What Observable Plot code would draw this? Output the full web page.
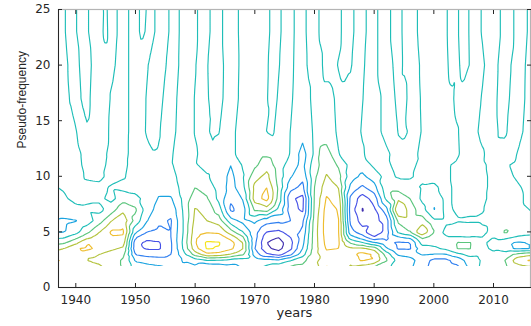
<!DOCTYPE html>
<html><head><meta charset="utf-8">
<script src="https://cdn.jsdelivr.net/npm/d3@7"></script>
<script src="https://cdn.jsdelivr.net/npm/@observablehq/plot@0.6"></script>
<style>html,body{margin:0;padding:0;background:#fff} svg{display:block}</style>
</head><body><div id="chart"></div>
<script>
// ---- axes / ticks ----
const xTicks = [1940, 1950, 1960, 1970, 1980, 1990, 2000, 2010];
const yTicks = [0, 5, 10, 15, 20, 25];
const xDomain = [1937.1, 2016.2];
const yDomain = [0, 25];
const xLabel = "years";
const yLabel = "Pseudo-frequency";

// ---- contour levels (coefficient values) and their colours ----
const levels = [-4, -3, -2, -1, 0, 1, 2, 3, 4];
const levelColors = ["#3f2eae", "#4651e6", "#2f7ff0", "#1aa3e0", "#1fbeb8", "#5bc57c", "#b4c33e", "#eebd2f", "#f5e41c"];

// ---- low pseudo-frequency rows (sampled every 2 years) ----
const lowYears = [1936,1938,1940,1942,1944,1946,1948,1950,1952,1954,1956,1958,1960,1962,1964,1966,1968,1970,1972,1974,1976,1978,1980,1982,1984,1986,1988,1990,1992,1994,1996,1998,2000,2002,2004,2006,2008,2010,2012,2014,2016,2018];
const lowFreqs = [1.8, 2.5, 3, 3.5, 4, 4.5, 5, 6, 7, 8, 9, 10, 11];
const c_f1_8 = [2.0,2.3,2.6,3.1,2.2,1.5,0.9,-0.5,-0.6,-0.8,-1.1,-1.1,-1.3,-2.1,-1.9,-1.5,-0.9,-0.3,0.3,0.8,1.2,1.3,1.3,3.1,3.1,1.8,1.5,0.8,0.3,-0.5,-0.8,-1.7,-2.3,-2.4,-2.2,-0.8,0.2,0.6,0.8,1.5,1.8,1.8];
const c_f2_5 = [3.2,3.0,2.4,1.9,1.7,1.3,0.9,-1.2,-1.5,-1.6,-1.6,-0.9,-0.3,0.2,0.1,-0.2,-0.3,-0.5,-0.8,-1.0,-0.2,0.6,1.7,2.4,2.3,2.4,3.2,3.0,1.2,-0.3,-0.6,-1.5,-2.2,-2.2,-1.6,-0.4,0.1,0.4,1.0,2.6,3.2,3.2];
const c_f3   = [2.6,2.7,2.8,2.4,2.0,1.6,1.2,-2.1,-2.4,-2.5,-2.0,-0.3,1.5,2.8,2.6,2.0,1.2,-1.5,-2.9,-3.5,-2.3,-0.5,1.6,2.7,2.6,2.7,3.3,2.9,0.6,-1.2,-1.5,-0.9,-1.0,-1.0,-0.2,0.3,0.2,0.2,0.6,1.2,1.6,1.6];
const c_f3_5 = [1.6,2.0,2.9,3.2,2.7,2.2,1.8,-2.7,-3.1,-3.1,-2.1,0.1,2.6,4.1,3.9,3.2,2.0,-2.0,-3.8,-4.3,-3.2,-1.0,1.5,3.1,3.0,2.2,2.2,1.6,-0.8,-2.1,-2.1,-0.4,-0.2,0.2,1.05,1.05,0.3,-0.2,-0.8,-1.1,-1.0,-0.9];
const c_f4   = [0.6,0.9,1.8,3.0,2.9,2.7,2.4,-2.7,-3.3,-3.1,-2.1,0.2,2.9,4.2,4.1,3.4,2.0,-1.8,-4.0,-4.5,-3.3,-1.3,1.5,3.3,3.2,1.0,0.2,-0.8,-1.8,-2.2,-2.1,0.3,0.3,0.5,1.1,1.1,0.2,-0.3,-0.9,-1.15,-1.0,-0.9];
const c_f4_5 = [-0.3,-0.1,0.7,1.8,2.6,2.9,2.8,-1.9,-2.7,-2.7,-2.0,0.1,2.8,3.5,3.5,2.6,1.2,-1.6,-3.6,-4.0,-3.0,-1.5,1.5,3.4,3.2,-0.5,-1.5,-2.8,-2.3,-1.2,-0.8,1.2,0.8,0.2,0.2,0.1,0.0,0.0,0.3,-0.2,-0.3,-0.3];
const c_f5   = [-1.1,-1.1,-0.4,0.8,2.0,3.2,3.2,-0.8,-2.0,-2.3,-2.0,0.0,2.6,2.9,2.8,1.4,0.0,-1.6,-3.0,-3.2,-2.6,-1.8,1.5,3.5,3.1,-1.6,-2.6,-4.05,-2.6,0.2,1.0,3.05,1.05,-0.3,-1.05,-1.15,-0.4,0.4,1.15,0.8,0.4,0.3];
const c_f6   = [-1.0,-1.2,-1.05,-0.5,0.6,2.0,2.6,0.6,-1.0,-1.8,-2.1,0.0,2.3,2.0,1.5,-0.6,-1.3,-0.8,-1.6,-1.8,-2.0,-2.2,1.4,3.5,3.1,-2.2,-3.4,-3.3,-2.6,1.2,1.6,1.5,0.2,0.2,0.1,0.2,0.2,0.4,0.5,0.2,0.1,0.0];
const c_f7   = [-0.3,-0.3,-0.3,-0.2,-0.3,0.5,1.8,1.2,-0.6,-1.4,-1.7,0.1,2.1,1.6,0.5,-2.2,-1.5,1.2,1.5,-0.3,-2.6,-3.2,1.2,3.4,2.95,-2.4,-4.1,-3.2,-1.4,3.1,1.6,0.4,-1.1,0.3,-0.2,-0.3,-0.1,0.4,0.4,0.1,0.0,-0.1];
const c_f8   = [-0.3,-0.15,0.3,0.2,0.2,-0.3,0.6,0.3,-0.4,-1.1,-1.1,0.2,1.6,1.1,-0.3,-1.9,-0.9,2.5,3.4,0.6,-2.8,-3.3,1.1,3.1,2.6,-2.2,-3.5,-2.6,0.2,1.8,1.0,-0.2,-0.9,0.3,-0.3,-0.4,-0.3,0.4,0.3,0.1,-0.1,-0.2];
const c_f9   = [-0.1,0.1,0.4,0.3,0.2,-0.1,-0.3,-0.4,-0.4,-0.6,-0.5,0.3,1.0,0.6,-0.4,-1.4,-0.3,2.3,3.0,0.8,-1.6,-2.3,1.0,2.6,2.0,-1.2,-2.2,-1.4,0.6,0.6,0.3,-0.1,-0.2,0.3,-0.3,-0.4,-0.3,0.3,0.2,0.1,-0.2,-0.3];
const c_f10  = [0.3,0.3,0.3,-0.15,-0.2,0.3,0.1,-0.5,-0.5,-0.5,-0.3,0.4,0.5,0.1,-0.4,-1.3,-0.1,1.6,2.3,0.6,-0.9,-1.7,0.8,2.1,1.4,-0.5,-1.2,-0.5,0.3,-0.1,-0.1,0.2,0.3,0.2,-0.3,-0.4,-0.3,0.3,0.2,-0.1,-0.3,-0.3];
const c_f11  = [0.3,0.3,0.3,-0.3,-0.4,0.4,0.2,-0.4,-0.5,-0.3,-0.1,0.5,0.1,-0.3,-0.4,-1.0,0.1,0.8,1.6,0.5,-0.5,-1.3,0.6,1.6,0.9,-0.3,-0.6,0.2,0.2,-0.3,-0.3,0.3,0.4,0.2,-0.3,-0.4,-0.2,0.3,0.1,-0.2,-0.3,-0.3];
const lowRows = [c_f1_8, c_f2_5, c_f3, c_f3_5, c_f4, c_f4_5, c_f5, c_f6, c_f7, c_f8, c_f9, c_f10, c_f11];

// ---- high pseudo-frequency rows (sampled every year) ----
const highYears = [1936,1937,1938,1939,1940,1941,1942,1943,1944,1945,1946,1947,1948,1949,1950,1951,1952,1953,1954,1955,1956,1957,1958,1959,1960,1961,1962,1963,1964,1965,1966,1967,1968,1969,1970,1971,1972,1973,1974,1975,1976,1977,1978,1979,1980,1981,1982,1983,1984,1985,1986,1987,1988,1989,1990,1991,1992,1993,1994,1995,1996,1997,1998,1999,2000,2001,2002,2003,2004,2005,2006,2007,2008,2009,2010,2011,2012,2013,2014,2015,2016,2017,2018];
const highFreqs = [12, 14, 17, 20, 23, 26];
const c_f12 = [0.4,0.4,0.4,0.4,
  0.4,-0.05,-0.4,-0.4,-0.4,-0.1,0.5,0.5,0.4,-0.1,
  -0.5,-0.5,-0.5,-0.1,-0.2,-0.5,-0.2,0.5,0.6,0.6,
  0.3,-0.4,-0.5,-0.2,-0.5,-0.7,-0.6,0.2,0.6,0.7,
  0.8,0.8,0.8,0.7,0.6,0.5,-0.1,-0.8,-1.4,-0.7,
  0.2,1.2,1.3,0.9,0.1,-0.6,-0.6,-0.6,-0.3,0.5,
  0.6,0.6,0.4,-0.2,-0.3,-0.3,-0.5,-0.2,0.5,0.6,
  0.6,0.6,0.6,0.6,0.2,-0.5,-0.5,-0.5,-0.3,0.3,
  0.5,0.4,0.3,0.4,-0.05,-0.5,-0.5,-0.5,-0.5];
const c_f14 = [0.6,0.6,0.6,0.6,
  0.1,-0.6,-0.1,-0.6,-0.6,-0.5,0.5,0.6,0.6,-0.1,
  -0.6,-0.6,0.3,0.6,0.1,-0.6,-0.6,0.2,0.6,0.6,
  -0.1,-0.6,-0.1,0.15,0.05,-0.6,-0.6,0.2,0.6,0.6,
  0.6,0.6,-0.02,-0.15,0.5,0.6,-0.05,-0.6,-0.6,-0.6,
  0.3,0.6,0.6,0.6,-0.4,-0.6,-0.6,-0.6,0.2,0.6,
  0.6,0.1,-0.6,-0.6,0.05,0.15,-0.1,-0.6,0.1,0.6,
  0.6,0.6,0.6,0.6,0.1,-0.6,-0.6,-0.4,0.6,0.6,
  0.5,-0.15,-0.15,0.4,0.6,-0.05,-0.6,-0.6,-0.6];
const c_f17 = [0.6,0.6,0.6,-0.05,
  -0.6,0.1,0.4,-0.6,-0.6,-0.6,0.2,0.6,0.6,-0.1,
  -0.6,-0.6,0.2,0.6,0.6,-0.4,-0.6,0.05,0.6,0.6,
  -0.1,-0.6,-0.2,0.6,0.6,-0.3,-0.6,-0.2,0.6,0.6,
  0.6,0.6,0.1,-0.6,0.2,0.6,0.3,-0.6,-0.6,-0.3,
  0.6,0.6,0.6,0.3,-0.6,-0.6,-0.6,-0.6,-0.1,0.6,
  0.6,0.1,-0.6,-0.5,0.5,0.5,-0.5,-0.6,0.2,0.6,
  0.6,0.6,0.6,0.3,-0.6,-0.6,-0.6,-0.6,0.05,0.6,
  0.6,-0.4,-0.6,0.3,0.6,0.2,-0.6,-0.6,-0.6];
const c_f20 = [0.6,0.6,0.6,-0.3,
  -0.6,0.4,0.6,-0.4,-0.6,-0.6,-0.6,0.4,0.6,-0.1,
  -0.6,-0.6,-0.1,0.6,0.6,0.1,-0.6,-0.2,0.6,0.6,
  0.1,-0.6,-0.1,0.6,0.6,-0.2,-0.6,-0.3,0.6,0.6,
  0.6,0.6,0.2,-0.6,-0.1,0.6,0.5,-0.5,-0.6,0.2,
  0.6,0.3,-0.6,-0.6,0.1,0.6,0.2,-0.6,-0.4,0.6,
  0.6,-0.4,-0.6,-0.1,0.6,-0.2,-0.6,-0.6,0.4,0.6,
  0.6,0.6,0.4,-0.6,-0.3,0.6,-0.05,-0.6,-0.5,0.5,
  0.6,-0.2,-0.6,0.05,0.6,0.3,-0.6,-0.6,-0.6];
const c_f23 = [0.6,0.6,0.2,-0.6,
  -0.1,0.6,0.1,-0.6,-0.4,0.3,-0.6,0.05,0.6,-0.1,
  -0.6,0.3,-0.2,-0.2,0.6,0.6,-0.4,-0.3,0.6,0.6,
  0.4,-0.6,-0.5,0.5,0.6,-0.4,-0.6,-0.2,0.6,0.6,
  0.6,0.6,0.5,-0.5,-0.4,0.6,0.6,-0.4,-0.6,0.4,
  0.6,-0.2,-0.6,-0.6,-0.5,0.5,0.6,-0.4,-0.6,0.3,
  0.6,-0.4,-0.6,0.2,0.6,-0.3,-0.6,-0.2,0.6,0.6,
  0.6,0.6,0.2,-0.6,-0.1,0.6,-0.1,-0.6,0.05,0.6,
  0.6,0.1,-0.6,-0.4,0.6,0.6,-0.3,-0.6,-0.6];
const c_f26 = [0.6,0.6,0.2,-0.6,
  -0.1,0.6,0.1,-0.6,-0.2,0.2,-0.6,0.05,0.6,-0.1,
  -0.6,0.3,-0.05,-0.2,0.6,0.6,-0.4,-0.3,0.6,0.6,
  0.4,-0.6,-0.5,0.5,0.6,-0.4,-0.6,-0.2,0.6,0.6,
  0.6,0.6,0.5,-0.5,-0.4,0.6,0.6,-0.4,-0.6,0.4,
  0.6,-0.2,-0.6,-0.6,-0.5,0.5,0.6,-0.4,-0.6,0.3,
  0.6,-0.4,-0.6,0.2,0.6,-0.3,-0.6,-0.2,0.6,0.6,
  0.6,0.6,0.2,-0.6,-0.1,0.6,-0.1,-0.6,0.05,0.6,
  0.6,0.1,-0.6,-0.4,0.6,0.6,-0.3,-0.6,-0.6];
const highRows = [c_f12, c_f14, c_f17, c_f20, c_f23, c_f26];

// ---- sample table built from the named arrays ----
const samples = [];
lowRows.forEach((row, i) => row.forEach((v, j) => samples.push({year: lowYears[j], freq: lowFreqs[i], v})));
highRows.forEach((row, i) => row.forEach((v, j) => samples.push({year: highYears[j], freq: highFreqs[i], v})));

const ink = "#262626";
const chart = Plot.plot({
  width: 531,
  height: 326,
  marginLeft: 58,
  marginRight: 1,
  marginTop: 9,
  marginBottom: 39,
  x: {domain: xDomain},
  y: {domain: yDomain},
  color: {type: "ordinal", domain: levels, range: levelColors},
  style: {fontFamily: "DejaVu Sans, Liberation Sans, sans-serif", fontSize: "12px", color: ink, background: "#fff"},
  marks: [
    Plot.contour(samples, {
      x: "year", y: "freq", value: "v",
      interpolate: "barycentric",
      x1: lowYears[0], x2: lowYears[lowYears.length - 1],
      y1: lowFreqs[0], y2: highFreqs[highFreqs.length - 1],
      thresholds: levels,
      stroke: "value", fill: "none", strokeWidth: 1.15,
      clip: true
    }),
    Plot.rect([0], {x1: xDomain[0], x2: xDomain[1], y1: yDomain[0], y2: lowFreqs[0], fill: "#fff", insetTop: -1, clip: true}),
    Plot.frame({stroke: "#b4b4b4", strokeWidth: 1.2}),
    Plot.ruleY([yDomain[0]], {stroke: ink}),
    Plot.ruleX([xDomain[0]], {stroke: ink}),
    Plot.axisX(xTicks, {tickSize: 0, tickPadding: 8, label: null, fontSize: 12, tickFormat: d => String(d)}),
    Plot.axisX(xTicks, {tickSize: -4, tickFormat: () => "", label: null, stroke: ink}),
    Plot.axisX(xTicks, {anchor: "top", tickSize: -4, tickFormat: () => "", label: null, stroke: ink}),
    Plot.axisY(yTicks, {tickSize: 0, tickPadding: 8, label: null, fontSize: 12}),
    Plot.axisY(yTicks, {tickSize: -4, tickFormat: () => "", label: null, stroke: ink}),
    Plot.axisY(yTicks, {anchor: "right", tickSize: -4, tickFormat: () => "", label: null, stroke: ink}),
    Plot.text([xLabel], {frameAnchor: "bottom", dy: 29, text: d => d, fontSize: 13, fill: ink}),
    Plot.text([yLabel], {frameAnchor: "left", rotate: -90, dx: -36, text: d => d, fontSize: 12, fill: ink, fontFamily: "Liberation Sans, Arial, sans-serif"})
  ]
});
document.getElementById("chart").appendChild(chart);
</script>
</body></html>
